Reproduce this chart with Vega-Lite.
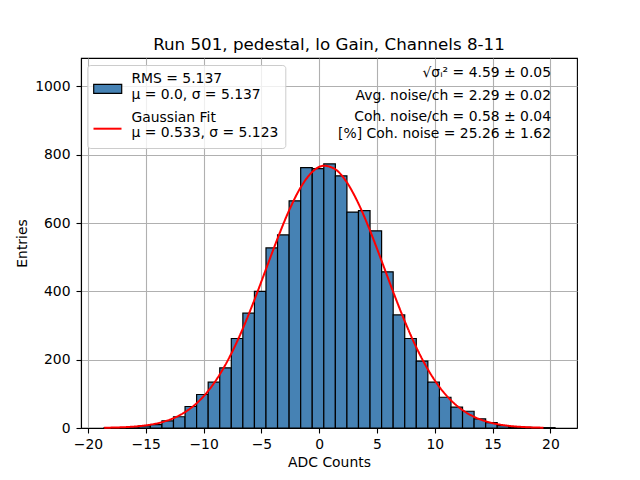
{
  "$schema": "https://vega.github.io/schema/vega-lite/v6.json",
  "width": 496,
  "height": 370,
  "autosize": {"type": "none"},
  "padding": {"left": 81, "top": 58, "right": 63, "bottom": 52},
  "background": "white",
  "config": {
    "font": "DejaVu Sans",
    "view": {"stroke": "black", "strokeWidth": 1.1},
    "axis": {
      "zindex": 1,
      "grid": true,
      "gridColor": "#b0b0b0",
      "gridWidth": 1.1,
      "domainColor": "black",
      "domainWidth": 1.1,
      "tickColor": "black",
      "tickWidth": 1.1,
      "tickSize": 5,
      "labelFont": "DejaVu Sans",
      "labelFontSize": 13.9,
      "labelColor": "black",
      "titleFont": "DejaVu Sans",
      "titleFontSize": 13.9,
      "titleFontWeight": "normal",
      "titleColor": "black"
    },
    "legend": {
      "labelFont": "DejaVu Sans",
      "labelFontSize": 13.9,
      "labelColor": "black",
      "labelLimit": 400
    }
  },
  "title": {
    "text": "Run 501, pedestal, lo Gain, Channels 8-11",
    "fontSize": 16.7,
    "fontWeight": "normal",
    "font": "DejaVu Sans",
    "color": "black",
    "frame": "group",
    "anchor": "middle",
    "offset": 4
  },
  "datasets": {
    "bins": [
      {"start": -18.6, "end": -17.6, "count": 1},
      {"start": -17.6, "end": -16.6, "count": 1},
      {"start": -16.6, "end": -15.6, "count": 4},
      {"start": -15.6, "end": -14.6, "count": 6},
      {"start": -14.6, "end": -13.6, "count": 10},
      {"start": -13.6, "end": -12.6, "count": 21},
      {"start": -12.6, "end": -11.6, "count": 33},
      {"start": -11.6, "end": -10.6, "count": 63},
      {"start": -10.6, "end": -9.6, "count": 98},
      {"start": -9.6, "end": -8.6, "count": 134},
      {"start": -8.6, "end": -7.6, "count": 176},
      {"start": -7.6, "end": -6.6, "count": 262},
      {"start": -6.6, "end": -5.6, "count": 336},
      {"start": -5.6, "end": -4.6, "count": 400},
      {"start": -4.6, "end": -3.6, "count": 527},
      {"start": -3.6, "end": -2.6, "count": 565},
      {"start": -2.6, "end": -1.6, "count": 665},
      {"start": -1.6, "end": -0.6, "count": 762},
      {"start": -0.6, "end": 0.4, "count": 759},
      {"start": 0.4, "end": 1.4, "count": 773},
      {"start": 1.4, "end": 2.4, "count": 738},
      {"start": 2.4, "end": 3.4, "count": 632},
      {"start": 3.4, "end": 4.4, "count": 636},
      {"start": 4.4, "end": 5.4, "count": 577},
      {"start": 5.4, "end": 6.4, "count": 457},
      {"start": 6.4, "end": 7.4, "count": 331},
      {"start": 7.4, "end": 8.4, "count": 262},
      {"start": 8.4, "end": 9.4, "count": 196},
      {"start": 9.4, "end": 10.4, "count": 134},
      {"start": 10.4, "end": 11.4, "count": 90},
      {"start": 11.4, "end": 12.4, "count": 61},
      {"start": 12.4, "end": 13.4, "count": 49},
      {"start": 13.4, "end": 14.4, "count": 27},
      {"start": 14.4, "end": 15.4, "count": 16},
      {"start": 15.4, "end": 16.4, "count": 7},
      {"start": 16.4, "end": 17.4, "count": 3},
      {"start": 17.4, "end": 18.4, "count": 2},
      {"start": 18.4, "end": 19.4, "count": 1},
      {"start": 19.4, "end": 20.4, "count": 1}
    ],
    "fit": [
      {"x": -18.6, "y": 0.72},
      {"x": -17.6, "y": 1.46},
      {"x": -16.6, "y": 2.86},
      {"x": -15.6, "y": 5.4},
      {"x": -14.6, "y": 9.79},
      {"x": -13.6, "y": 17.1},
      {"x": -12.6, "y": 28.7},
      {"x": -11.6, "y": 46.5},
      {"x": -10.6, "y": 72.4},
      {"x": -9.6, "y": 108.6},
      {"x": -8.6, "y": 156.8},
      {"x": -7.6, "y": 217.8},
      {"x": -6.6, "y": 291.3},
      {"x": -5.6, "y": 375.1},
      {"x": -4.6, "y": 464.9},
      {"x": -3.6, "y": 554.6},
      {"x": -2.6, "y": 637.0},
      {"x": -1.6, "y": 704.2},
      {"x": -0.6, "y": 749.4},
      {"x": 0.4, "y": 767.7},
      {"x": 1.4, "y": 757.1},
      {"x": 2.4, "y": 718.7},
      {"x": 3.4, "y": 656.7},
      {"x": 4.4, "y": 577.6},
      {"x": 5.4, "y": 489.1},
      {"x": 6.4, "y": 398.6},
      {"x": 7.4, "y": 312.7},
      {"x": 8.4, "y": 236.2},
      {"x": 9.4, "y": 171.7},
      {"x": 10.4, "y": 120.2},
      {"x": 11.4, "y": 81.0},
      {"x": 12.4, "y": 52.5},
      {"x": 13.4, "y": 32.8},
      {"x": 14.4, "y": 19.7},
      {"x": 15.4, "y": 11.4},
      {"x": 16.4, "y": 6.35},
      {"x": 17.4, "y": 3.4},
      {"x": 18.4, "y": 1.75},
      {"x": 19.4, "y": 0.87}
    ],
    "stats": [
      {"label": "√σᵢ² = 4.59 ± 0.05"},
      {"label": "Avg. noise/ch = 2.29 ± 0.02"},
      {"label": "Coh. noise/ch = 0.58 ± 0.04"},
      {"label": "[%] Coh. noise = 25.26 ± 1.62"}
    ]
  },
  "layer": [
    {
      "data": {"name": "bins"},
      "mark": {"type": "bar", "stroke": "black", "strokeWidth": 1.2},
      "encoding": {
        "x": {
          "field": "start",
          "type": "quantitative",
          "scale": {"domain": [-20.6, 22.3], "nice": false, "zero": false},
          "axis": {"title": "ADC Counts", "values": [-20, -15, -10, -5, 0, 5, 10, 15, 20], "labelPadding": 4, "titlePadding": 5}
        },
        "x2": {"field": "end"},
        "y": {
          "field": "count",
          "type": "quantitative",
          "scale": {"domain": [0, 1083], "nice": false},
          "axis": {"title": "Entries", "format": "d", "values": [0, 200, 400, 600, 800, 1000], "labelPadding": 6, "titlePadding": 5}
        },
        "y2": {"datum": 0},
        "fill": {
          "datum": "hist",
          "type": "nominal",
          "scale": {"domain": ["hist"], "range": ["#4682b4"]},
          "legend": {
            "title": null,
            "orient": "none",
            "legendX": 11.7,
            "legendY": 15.8,
            "zindex": 3,
            "padding": 0,
            "symbolType": "M-1,-0.32L1,-0.32L1,0.32L-1,0.32Z",
            "symbolSize": 784,
            "symbolStrokeColor": "black",
            "symbolStrokeWidth": 1.2,
            "symbolOpacity": 1,
            "labelExpr": "''"
          }
        }
      }
    },
    {
      "data": {"name": "fit"},
      "mark": {"type": "line", "strokeWidth": 2, "interpolate": "monotone"},
      "encoding": {
        "x": {"field": "x", "type": "quantitative"},
        "y": {"field": "y", "type": "quantitative"},
        "stroke": {
          "datum": "fit",
          "type": "nominal",
          "scale": {"domain": ["fit"], "range": ["red"]},
          "legend": {
            "title": null,
            "orient": "none",
            "legendX": 11.5,
            "legendY": 55.7,
            "zindex": 3,
            "padding": 0,
            "symbolType": "stroke",
            "symbolSize": 784,
            "symbolStrokeWidth": 2,
            "symbolOpacity": 1,
            "labelExpr": "''"
          }
        },
        "strokeDash": {
          "datum": "fit",
          "type": "nominal",
          "scale": {"domain": ["hist", "fit"], "range": [[1, 0], [1, 0]]},
          "legend": {
            "title": null,
            "orient": "none",
            "legendX": 6.3,
            "legendY": 7,
            "zindex": 2,
            "padding": 6.7,
            "fillColor": "rgba(255,255,255,0.8)",
            "strokeColor": "#cccccc",
            "cornerRadius": 3,
            "symbolType": "stroke",
            "symbolSize": 100,
            "symbolStrokeColor": "transparent",
            "symbolOpacity": 0,
            "labelOffset": 23.5,
            "rowPadding": 7.9,
            "labelExpr": "datum.value === 'hist' ? ['RMS = 5.137', 'μ = 0.0, σ = 5.137'] : ['Gaussian Fit', 'μ = 0.533, σ = 5.123']"
          }
        }
      }
    },
    {
      "data": {"name": "stats"},
      "transform": [{"filter": "datum.label[0] === '√'"}],
      "mark": {"type": "text", "align": "right", "baseline": "middle", "fontSize": 13.9, "font": "DejaVu Sans", "color": "black"},
      "encoding": {
        "x": {"datum": 20.05, "type": "quantitative"},
        "y": {"datum": 1038, "type": "quantitative"},
        "text": {"field": "label"}
      }
    },
    {
      "data": {"name": "stats"},
      "transform": [{"filter": "indexof(datum.label, 'Avg') === 0"}],
      "mark": {"type": "text", "align": "right", "baseline": "middle", "fontSize": 13.9, "font": "DejaVu Sans", "color": "black"},
      "encoding": {
        "x": {"datum": 20.05, "type": "quantitative"},
        "y": {"datum": 971, "type": "quantitative"},
        "text": {"field": "label"}
      }
    },
    {
      "data": {"name": "stats"},
      "transform": [{"filter": "indexof(datum.label, 'Coh. noise/ch') === 0"}],
      "mark": {"type": "text", "align": "right", "baseline": "middle", "fontSize": 13.9, "font": "DejaVu Sans", "color": "black"},
      "encoding": {
        "x": {"datum": 20.05, "type": "quantitative"},
        "y": {"datum": 909, "type": "quantitative"},
        "text": {"field": "label"}
      }
    },
    {
      "data": {"name": "stats"},
      "transform": [{"filter": "indexof(datum.label, '[%]') === 0"}],
      "mark": {"type": "text", "align": "right", "baseline": "middle", "fontSize": 13.9, "font": "DejaVu Sans", "color": "black"},
      "encoding": {
        "x": {"datum": 20.05, "type": "quantitative"},
        "y": {"datum": 861, "type": "quantitative"},
        "text": {"field": "label"}
      }
    }
  ]
}
